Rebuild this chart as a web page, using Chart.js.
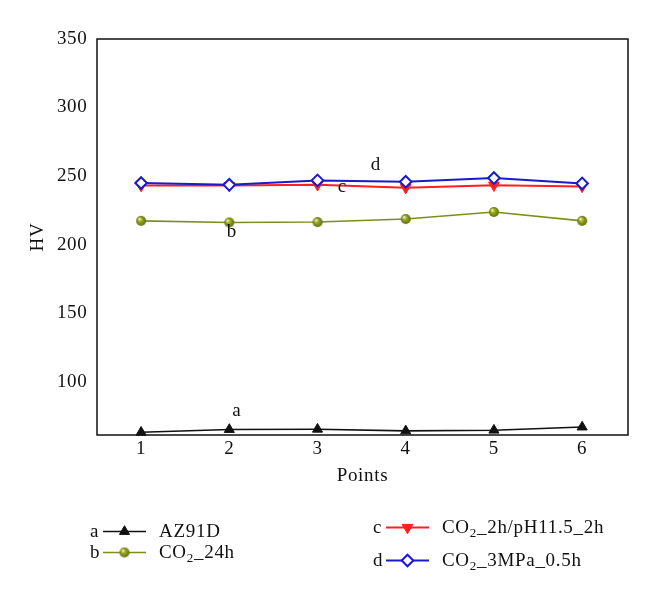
<!DOCTYPE html>
<html lang="en">
<head>
  <meta charset="UTF-8" />
  <title>HV points</title>
  <script src="https://cdn.jsdelivr.net/npm/chart.js"></script>
  <style>
    html, body { margin: 0; padding: 0; background: #fff; }
    #wrap { width: 660px; height: 597px; }
  </style>
</head>
<body>
  <div id="wrap"><canvas id="hvChart" width="660" height="597"></canvas></div>

  <script>
    // values
    const points = [1, 2, 3, 4, 5, 6];
    const az91d = [63, 65, 65.2, 64, 64.5, 66.8];
    const co2_24h = [217.3, 216.1, 216.4, 218.6, 223.7, 217.3];
    const co2_ph = [243, 243, 243.6, 241.5, 243.3, 242.4];
    const co2_3mpa = [244.9, 243.6, 246.8, 245.8, 248.5, 244.6];
    const yTicks = [100, 150, 200, 250, 300, 350];

    const letters = ['a', 'b', 'c', 'd'];
    const names = ['AZ91D', 'CO2_24h', 'CO2_2h/pH11.5_2h', 'CO2_3MPa_0.5h'];
    // where the a/b/c/d tags sit, in data units (x point, y HV at text baseline)
    const tagX = [2.085, 2.03, 3.28, 3.66];
    const tagY = [75, 205.4, 238.7, 254.6];

    const FONT = '"Liberation Serif", "DejaVu Serif", serif';
    const SPACING = '0.7px';
    const BLACK = '#111111', OLIVE = '#7d8f1a', RED = '#ff1f1f', BLUE = '#1a1ac8';

    // little shaded ball for the CO2_24h series
    function makeBall(r) {
      const c = document.createElement('canvas');
      c.width = c.height = r * 2 + 2;
      const g = c.getContext('2d');
      const cx = r + 1, cy = r + 1;
      const grad = g.createRadialGradient(cx - r * 0.35, cy - r * 0.4, 0.5, cx, cy, r);
      grad.addColorStop(0, '#eef2b0');
      grad.addColorStop(0.35, '#9aab2a');
      grad.addColorStop(1, '#5f6d0c');
      g.fillStyle = grad;
      g.beginPath();
      g.arc(cx, cy, r, 0, Math.PI * 2);
      g.fill();
      return c;
    }
    const ball = makeBall(5);

    const toXY = arr => arr.map((v, i) => ({ x: points[i], y: v }));

    const styles = [
      { color: BLACK, pointStyle: 'triangle', radius: 5.8, rot: 0, fill: BLACK, width: 1.6 },
      { color: OLIVE, pointStyle: ball, radius: 5, rot: 0, fill: OLIVE, width: 1.6 },
      { color: RED, pointStyle: 'triangle', radius: 6.2, rot: 180, fill: RED, width: 2 },
      { color: BLUE, pointStyle: 'rectRot', radius: 5.8, rot: 0, fill: '#ffffff', width: 2 }
    ];

    // splits "CO2_..." so the 2 can be drawn as subscript
    function drawRich(ctx, text, x, y) {
      ctx.textAlign = 'left';
      ctx.textBaseline = 'alphabetic';
      if (text.startsWith('CO2')) {
        ctx.font = '19px ' + FONT;
        ctx.fillText('CO', x, y);
        x += ctx.measureText('CO').width;
        ctx.font = '13px ' + FONT;
        ctx.fillText('2', x, y + 4);
        x += ctx.measureText('2').width;
        text = text.slice(3);
      }
      ctx.font = '19px ' + FONT;
      ctx.fillText(text, x, y);
    }

    const extras = {
      id: 'extras',
      beforeDraw(chart) {
        // the figure's typeface runs a little wider than Liberation Serif
        chart.ctx.letterSpacing = SPACING;
      },
      beforeDatasetsDraw(chart) {
        const { ctx, chartArea: a } = chart;
        ctx.save();
        ctx.strokeStyle = '#111';
        ctx.lineWidth = 1.5;
        ctx.strokeRect(a.left, a.top, a.right - a.left, a.bottom - a.top);
        ctx.restore();
      },
      afterDraw(chart) {
        const { ctx } = chart;
        const xs = chart.scales.x, ys = chart.scales.y;
        ctx.save();
        ctx.letterSpacing = SPACING;
        ctx.fillStyle = '#111';
        ctx.font = '19px ' + FONT;
        ctx.textAlign = 'center';
        ctx.textBaseline = 'alphabetic';
        letters.forEach((l, i) => {
          ctx.fillText(l, xs.getPixelForValue(tagX[i]), ys.getPixelForValue(tagY[i]));
        });

        // legend, two loose columns under the plot
        const slots = [
          { x: 90, y: 537 }, { x: 90, y: 558 },
          { x: 373, y: 533 }, { x: 373, y: 566 }
        ];
        slots.forEach((s, i) => {
          const st = styles[i];
          ctx.fillStyle = '#111';
          ctx.font = '19px ' + FONT;
          ctx.textAlign = 'left';
          ctx.fillText(letters[i], s.x, s.y);
          const my = s.y - 5.5;
          const lx = s.x + 13;
          ctx.strokeStyle = st.color;
          ctx.lineWidth = st.width;
          ctx.beginPath();
          ctx.moveTo(lx, my);
          ctx.lineTo(lx + 43, my);
          ctx.stroke();
          ctx.fillStyle = st.fill;
          ctx.strokeStyle = st.color;
          ctx.lineWidth = i === 3 ? 2 : 1;
          Chart.helpers.drawPoint(ctx, {
            pointStyle: st.pointStyle, rotation: st.rot,
            radius: i === 1 ? 4 : st.radius, borderWidth: ctx.lineWidth
          }, lx + 21.5, my);
          ctx.fillStyle = '#111';
          drawRich(ctx, names[i], s.x + 69, s.y);
        });
        ctx.restore();
      }
    };

    const datasets = [az91d, co2_24h, co2_ph, co2_3mpa].map((arr, i) => ({
      label: names[i].replace('CO2', 'CO\u2082'),
      data: toXY(arr),
      borderColor: styles[i].color,
      borderWidth: styles[i].width,
      pointStyle: styles[i].pointStyle,
      pointRotation: styles[i].rot,
      pointRadius: styles[i].radius,
      pointBackgroundColor: styles[i].fill,
      pointBorderColor: styles[i].color,
      pointBorderWidth: i === 3 ? 2 : 1,
      tension: 0,
      clip: false,
      order: [3, 2, 1, 0][i]
    }));

    new Chart(document.getElementById('hvChart'), {
      type: 'line',
      data: { datasets },
      options: {
        responsive: false,
        animation: false,
        events: [],
        layout: { padding: { top: 39, right: 32, bottom: 107, left: 0 } },
        plugins: { legend: { display: false }, tooltip: { enabled: false } },
        scales: {
          x: {
            type: 'linear',
            min: 0.5,
            max: 6.52,
            afterBuildTicks: s => { s.ticks = points.map(v => ({ value: v })); },
            afterFit: s => { s.height = 55; },
            grid: { display: false, drawTicks: false },
            border: { display: false },
            ticks: { color: '#111', padding: 3, font: { family: FONT, size: 19 } },
            title: { display: true, text: 'Points', color: '#111', padding: { top: 0, bottom: 2.5 }, font: { family: FONT, size: 19 } }
          },
          y: {
            min: 61,
            max: 350,
            afterBuildTicks: s => { s.ticks = yTicks.map(v => ({ value: v })); },
            afterFit: s => { s.width = 97; },
            grid: { display: false, drawTicks: false },
            border: { display: false },
            ticks: { color: '#111', padding: 9.5, font: { family: FONT, size: 19 } },
            title: { display: true, text: 'HV', color: '#111', padding: { top: 27, bottom: 0 }, font: { family: FONT, size: 19 } }
          }
        }
      },
      plugins: [extras]
    });
  </script>
</body>
</html>
